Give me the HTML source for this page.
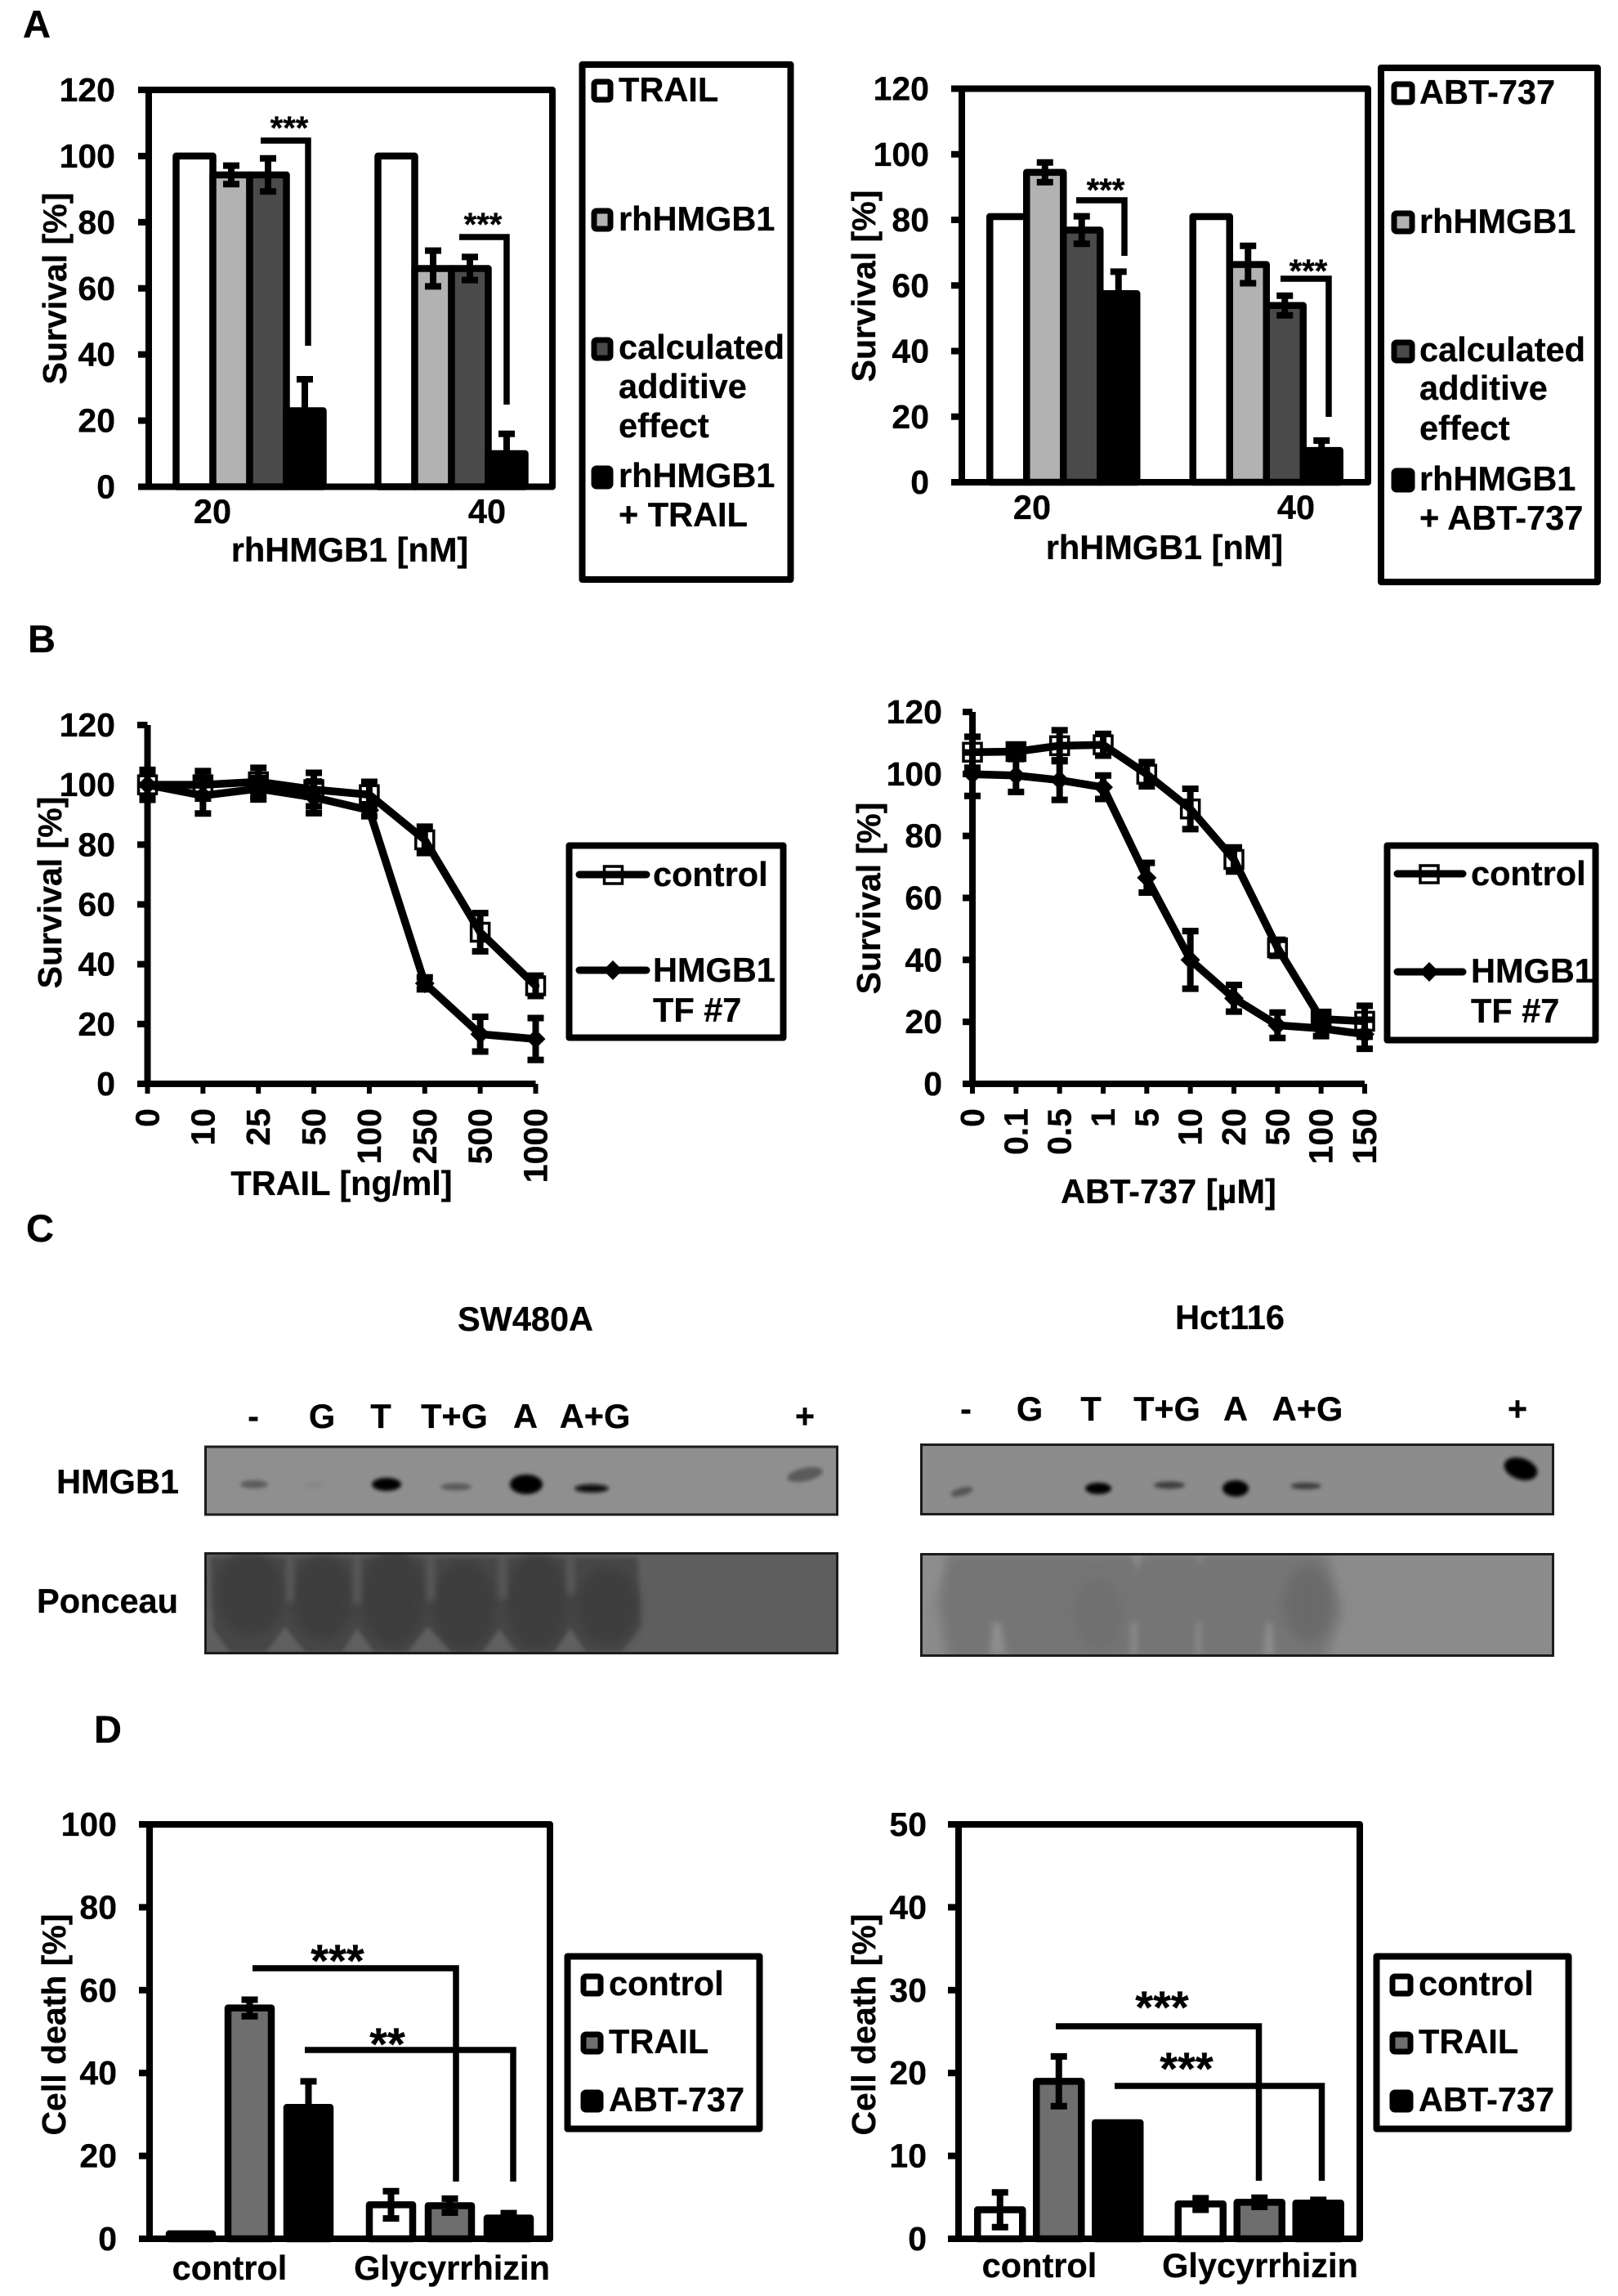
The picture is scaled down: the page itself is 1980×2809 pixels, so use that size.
<!DOCTYPE html>
<html lang="en">
<head>
<meta charset="utf-8">
<title>Survival and cell death figure</title>
<style>
html,body{margin:0;padding:0;background:#fff}
svg{display:block}
text{font-family:"Liberation Sans",Arial,sans-serif;font-weight:bold;font-size:41.5px;fill:#000;stroke:#000;stroke-width:.3}
.frame{fill:none;stroke:#000;stroke-width:8;stroke-linejoin:round}
.brk{fill:none;stroke:#000;stroke-width:7.5}
.sw{stroke:#000;stroke-width:7;stroke-linejoin:round}
.mid{text-anchor:middle}
.end{text-anchor:end}
.star{font-size:40px;text-anchor:middle}
.bigstar{font-size:56px;text-anchor:middle}
.letter{font-size:47px}
.ylab{font-size:41px;text-anchor:middle}
.tick{font-size:41px}
</style>
</head>
<body>
<svg xmlns="http://www.w3.org/2000/svg" width="1980" height="2809" viewBox="0 0 1980 2809">
<defs>
<filter id="b1" x="-50%" y="-100%" width="200%" height="300%"><feGaussianBlur stdDeviation="2.4"/></filter>
<filter id="b2" x="-30%" y="-30%" width="160%" height="160%"><feGaussianBlur stdDeviation="7"/></filter>
<filter id="b3" x="-30%" y="-30%" width="160%" height="160%"><feGaussianBlur stdDeviation="3"/></filter>
<filter id="b4" x="-100%" y="-30%" width="300%" height="160%"><feGaussianBlur stdDeviation="4"/></filter>
<clipPath id="cp1"><rect x="253" y="1902" width="770" height="119"/></clipPath>
<clipPath id="cp2"><rect x="1129" y="1903" width="770" height="121"/></clipPath>
</defs>

<text class="letter" x="28" y="46">A</text>
<text class="letter" x="34" y="798">B</text>
<text class="letter" x="32" y="1519">C</text>
<text class="letter" x="115" y="2132">D</text>

<!-- Panel A left -->
<g id="chart-a1"></g>
<path class="brk" d="M319 172H377V423"/>
<text class="star" x="354" y="170">***</text>
<path class="brk" d="M562 290H620V495"/>
<text class="star" x="591" y="288">***</text>
<text class="mid" x="260" y="640">20</text>
<text class="mid" x="596" y="640">40</text>
<text class="mid" x="428" y="687">rhHMGB1 [nM]</text>
<text class="ylab" transform="translate(81 353) rotate(-90)">Survival [%]</text>
<g>
<rect class="frame" x="712.5" y="79" width="255" height="630"/>
<rect class="sw" x="727" y="100" width="20" height="22" rx="3" fill="#fff"/>
<text x="757" y="124">TRAIL</text>
<rect class="sw" x="727" y="258" width="20" height="22" rx="3" fill="#b2b2b2"/>
<text x="757" y="282">rhHMGB1</text>
<rect class="sw" x="727" y="416" width="20" height="22" rx="3" fill="#4a4a4a"/>
<text x="757" y="439">calculated</text>
<text x="757" y="487">additive</text>
<text x="757" y="535">effect</text>
<rect class="sw" x="727" y="573" width="20" height="22" rx="3" fill="#000"/>
<text x="757" y="596">rhHMGB1</text>
<text x="757" y="644">+ TRAIL</text>
</g>

<!-- Panel A right -->
<g id="chart-a2"></g>
<path class="brk" d="M1317 245H1376V313"/>
<text class="star" x="1353" y="246">***</text>
<path class="brk" d="M1567 341H1626V510"/>
<text class="star" x="1601" y="345">***</text>
<text class="mid" x="1263" y="635">20</text>
<text class="mid" x="1586" y="635">40</text>
<text class="mid" x="1425" y="684">rhHMGB1 [nM]</text>
<text class="ylab" transform="translate(1071 350) rotate(-90)">Survival [%]</text>
<g>
<rect class="frame" x="1690" y="83" width="265" height="629"/>
<rect class="sw" x="1706" y="103" width="22" height="22" rx="3" fill="#fff"/>
<text x="1737" y="127">ABT-737</text>
<rect class="sw" x="1706" y="261" width="22" height="22" rx="3" fill="#b2b2b2"/>
<text x="1737" y="285">rhHMGB1</text>
<rect class="sw" x="1706" y="419" width="22" height="22" rx="3" fill="#4a4a4a"/>
<text x="1737" y="442">calculated</text>
<text x="1737" y="489">additive</text>
<text x="1737" y="538">effect</text>
<rect class="sw" x="1706" y="576" width="22" height="23" rx="3" fill="#000"/>
<text x="1737" y="600">rhHMGB1</text>
<text x="1737" y="648">+ ABT-737</text>
</g>

<!-- Panel B left -->
<g id="chart-b1"></g>
<text class="mid" x="418" y="1462">TRAIL [ng/ml]</text>
<text class="ylab" transform="translate(75 1092) rotate(-90)">Survival [%]</text>
<g>
<rect class="frame" x="696.5" y="1034.5" width="262" height="235"/>
<path d="M709 1070H791" stroke="#000" stroke-width="9" stroke-linecap="round"/>
<rect x="739.5" y="1060" width="22" height="21" fill="none" stroke="#000" stroke-width="3.5"/>
<text x="799" y="1084">control</text>
<path d="M709 1187H791" stroke="#000" stroke-width="9" stroke-linecap="round"/>
<path d="M750 1175L762 1187L750 1199L738 1187Z" fill="#000"/>
<text x="799" y="1201">HMGB1</text>
<text x="799" y="1250">TF #7</text>
</g>

<!-- Panel B right -->
<g id="chart-b2"></g>
<text class="mid" x="1430" y="1472">ABT-737 [µM]</text>
<text class="ylab" transform="translate(1077 1099) rotate(-90)">Survival [%]</text>
<g>
<rect class="frame" x="1697.5" y="1034.5" width="255" height="238"/>
<path d="M1710 1069H1790" stroke="#000" stroke-width="9" stroke-linecap="round"/>
<rect x="1738" y="1059" width="22" height="21" fill="none" stroke="#000" stroke-width="3.5"/>
<text x="1800" y="1083">control</text>
<path d="M1710 1189H1790" stroke="#000" stroke-width="9" stroke-linecap="round"/>
<path d="M1749 1177L1761 1189L1749 1201L1737 1189Z" fill="#000"/>
<text x="1800" y="1202">HMGB1</text>
<text x="1800" y="1251">TF #7</text>
</g>

<!-- Panel C left -->
<g>
<text class="mid" x="643" y="1628">SW480A</text>
<text class="mid" x="310" y="1747">-</text>
<text class="mid" x="394" y="1747">G</text>
<text class="mid" x="466" y="1747">T</text>
<text class="mid" x="556" y="1747">T+G</text>
<text class="mid" x="643" y="1747">A</text>
<text class="mid" x="728" y="1747">A+G</text>
<text class="mid" x="985" y="1747">+</text>
<text class="end" x="219" y="1827">HMGB1</text>
<text class="end" x="218" y="1973">Ponceau</text>
<g>
<rect x="251.5" y="1770" width="773" height="83" fill="#8f8f8f" stroke="#1c1c1c" stroke-width="3"/>
<ellipse cx="311" cy="1816" rx="17" ry="5" fill="#5c5c5c" filter="url(#b1)"/>
<ellipse cx="383" cy="1817" rx="12" ry="4" fill="#878787" filter="url(#b1)"/>
<ellipse cx="473" cy="1816" rx="18" ry="8" fill="#000" filter="url(#b1)"/>
<ellipse cx="558" cy="1819" rx="19" ry="4.5" fill="#5a5a5a" filter="url(#b1)"/>
<ellipse cx="644" cy="1816" rx="20" ry="12" fill="#000" filter="url(#b1)"/>
<ellipse cx="724" cy="1821" rx="21" ry="5" fill="#0c0c0c" filter="url(#b1)"/>
<ellipse cx="985" cy="1804" rx="22" ry="8" fill="#5a5a5a" filter="url(#b1)" transform="rotate(-12 985 1804)"/>
</g>
<g>
<rect x="251.5" y="1900.5" width="773" height="122" fill="#5e5e5e" stroke="#1c1c1c" stroke-width="3"/>
<g clip-path="url(#cp1)">
<path d="M258 1905H780L784 1990L760 2022H262Z" fill="#474747" filter="url(#b3)"/>
<g fill="#3e3e3e" filter="url(#b2)">
<ellipse cx="306" cy="1950" rx="42" ry="52"/><ellipse cx="395" cy="1955" rx="38" ry="52"/><ellipse cx="481" cy="1955" rx="40" ry="60"/><ellipse cx="568" cy="1965" rx="40" ry="55"/><ellipse cx="657" cy="1960" rx="38" ry="60"/><ellipse cx="743" cy="1965" rx="38" ry="48"/>
</g>
<g fill="#5b5b5b" filter="url(#b4)">
<path d="M351 1900h8v60h-8Z"/><path d="M433 1900h8v62h-8Z"/><path d="M523 1900h8v58h-8Z"/><path d="M611 1900h8v56h-8Z"/><path d="M694 1900h8v50h-8Z"/>
</g>
<g fill="#5e5e5e" filter="url(#b1)">
<path d="M349 1990L325 2022H374Z"/><path d="M437 1992L418 2022H458Z"/><path d="M524 1990L498 2022H552Z"/><path d="M611 1993L590 2022H632Z"/><path d="M698 1992L678 2022H718Z"/><path d="M254 1985L282 2022H254Z"/>
</g>
</g>
</g>
</g>

<!-- Panel C right -->
<g>
<text class="mid" x="1505" y="1626">Hct116</text>
<text class="mid" x="1182" y="1738">-</text>
<text class="mid" x="1260" y="1738">G</text>
<text class="mid" x="1335" y="1738">T</text>
<text class="mid" x="1428" y="1738">T+G</text>
<text class="mid" x="1512" y="1738">A</text>
<text class="mid" x="1600" y="1738">A+G</text>
<text class="mid" x="1857" y="1738">+</text>
<g>
<rect x="1127.5" y="1767.5" width="773" height="85" fill="#8c8c8c" stroke="#1c1c1c" stroke-width="3"/>
<ellipse cx="1177" cy="1825" rx="14" ry="5" fill="#555" filter="url(#b1)" transform="rotate(-15 1177 1825)"/>
<ellipse cx="1344" cy="1821" rx="16" ry="7" fill="#000" filter="url(#b1)"/>
<ellipse cx="1431" cy="1817" rx="19" ry="4.5" fill="#3c3c3c" filter="url(#b1)"/>
<ellipse cx="1512" cy="1821" rx="16" ry="10" fill="#000" filter="url(#b1)"/>
<ellipse cx="1598" cy="1818" rx="19" ry="4" fill="#3c3c3c" filter="url(#b1)"/>
<ellipse cx="1861" cy="1797" rx="21" ry="13" fill="#000" filter="url(#b1)" transform="rotate(18 1861 1797)"/>
</g>
<g>
<rect x="1127.5" y="1901.5" width="773" height="124" fill="#8b8b8b" stroke="#1c1c1c" stroke-width="3"/>
<g clip-path="url(#cp2)">
<path d="M1160 1900H1622L1642 1970L1622 2030H1160L1148 1960Z" fill="#757575" filter="url(#b2)"/>
<ellipse cx="1600" cy="1962" rx="30" ry="46" fill="#6a6a6a" filter="url(#b2)"/>
<ellipse cx="1344" cy="1975" rx="30" ry="45" fill="#6f6f6f" filter="url(#b2)"/>
<g fill="#8d8d8d" filter="url(#b4)">
<path d="M1215 1985h10l6 40h-20Z"/><path d="M1384 1985h7v40h-7Z"/><path d="M1464 1985h6v40h-6Z"/><path d="M1550 1985h6l4 40h-14Z"/><path d="M1465 1900h8l-4 18Z"/><path d="M1385 1900h14l-7 22Z"/><path d="M1128 1900h26l-12 50L1128 1970Z"/>
</g>
</g>
</g>
</g>

<!-- Panel D left -->
<g id="chart-d1"></g>
<path class="brk" d="M309 2408H558V2669"/>
<text class="bigstar" x="413" y="2418">***</text>
<path class="brk" d="M373 2508H628V2669"/>
<text class="bigstar" x="474" y="2520">**</text>
<text class="mid" x="281" y="2789">control</text>
<text class="mid" x="553" y="2789">Glycyrrhizin</text>
<text class="ylab" transform="translate(80 2477) rotate(-90)">Cell death [%]</text>
<g>
<rect class="frame" x="694.5" y="2393.5" width="235" height="211"/>
<rect class="sw" x="714" y="2418" width="21" height="21" rx="3" fill="#fff"/>
<text x="745" y="2441">control</text>
<rect class="sw" x="714" y="2489" width="21" height="21" rx="3" fill="#6e6e6e"/>
<text x="745" y="2512">TRAIL</text>
<rect class="sw" x="714" y="2560" width="21" height="21" rx="3" fill="#000"/>
<text x="745" y="2583">ABT-737</text>
</g>

<!-- Panel D right -->
<g id="chart-d2"></g>
<path class="brk" d="M1292 2479H1540.5V2668"/>
<text class="bigstar" x="1422" y="2475">***</text>
<path class="brk" d="M1364 2552H1617.5V2668"/>
<text class="bigstar" x="1452" y="2550">***</text>
<text class="mid" x="1272" y="2786">control</text>
<text class="mid" x="1542" y="2786">Glycyrrhizin</text>
<text class="ylab" transform="translate(1071 2477) rotate(-90)">Cell death [%]</text>
<g>
<rect class="frame" x="1684.5" y="2393.5" width="235" height="211"/>
<rect class="sw" x="1704" y="2418" width="22" height="21" rx="3" fill="#fff"/>
<text x="1736" y="2441">control</text>
<rect class="sw" x="1704" y="2489" width="22" height="21" rx="3" fill="#6e6e6e"/>
<text x="1736" y="2512">TRAIL</text>
<rect class="sw" x="1704" y="2560" width="22" height="21" rx="3" fill="#000"/>
<text x="1736" y="2583">ABT-737</text>
</g>
</svg>

<script>
// ---- Panel A, TRAIL
const a1Categories = ['20', '40'];
const a1YTicks = [0, 20, 40, 60, 80, 100, 120];
const a1Single = [100, 100];
const a1SingleErr = [0, 0];
const a1Rh = [94.3, 66];
const a1RhErr = [2.8, 5.4];
const a1Calc = [94.3, 66];
const a1CalcErr = [5, 3.5];
const a1Combo = [23, 10];
const a1ComboErr = [9.5, 6];

// ---- Panel A, ABT-737
const a2Categories = ['20', '40'];
const a2YTicks = [0, 20, 40, 60, 80, 100, 120];
const a2Single = [81, 81];
const a2SingleErr = [0, 0];
const a2Rh = [94.5, 66.4];
const a2RhErr = [3, 5.7];
const a2Calc = [76.9, 53.9];
const a2CalcErr = [4.2, 3];
const a2Combo = [57.5, 9.7];
const a2ComboErr = [6.7, 3];

// ---- Panel B, TRAIL dose response
const b1Categories = ['0', '10', '25', '50', '100', '250', '500', '1000'];
const b1YTicks = [0, 20, 40, 60, 80, 100, 120];
const b1Control = [100, 100, 101, 98.4, 96.7, 81.6, 50.7, 32.8];
const b1ControlErr = [4.5, 4.6, 4.7, 5.6, 4.3, 4.4, 6.4, 3.4];
const b1Hmgb1 = [100, 96.4, 98.7, 95.8, 91.5, 33.6, 16.6, 15];
const b1Hmgb1Err = [5, 6, 3.6, 5.3, 2, 2, 5.8, 7];

// ---- Panel B, ABT-737 dose response
const b2Categories = ['0', '0.1', '0.5', '1', '5', '10', '20', '50', '100', '150'];
const b2YTicks = [0, 20, 40, 60, 80, 100, 120];
const b2Control = [107, 107.2, 109.1, 109.4, 99.9, 88.7, 72.4, 43.9, 20.9, 20.2];
const b2ControlErr = [5, 2, 5, 3.5, 3.9, 6.5, 3.9, 2.6, 1.6, 5];
const b2Hmgb1 = [99.9, 99.5, 98, 95.7, 66.5, 40, 27.6, 18.9, 17.9, 16];
const b2Hmgb1Err = [7, 5.3, 6.4, 3.8, 4.8, 9.3, 4.3, 4.1, 2.5, 4.7];

// ---- Panel D, SW480A
const d1Categories = ['control', 'Glycyrrhizin'];
const d1YTicks = [0, 20, 40, 60, 80, 100];
const d1Control = [1.2, 8.2];
const d1ControlErr = [0, 3.3];
const d1Trail = [55.7, 8];
const d1TrailErr = [2, 1.7];
const d1Abt = [31.7, 5];
const d1AbtErr = [6.3, 1.2];

// ---- Panel D, Hct116
const d2Categories = ['control', 'Glycyrrhizin'];
const d2YTicks = [0, 10, 20, 30, 40, 50];
const d2Control = [3.5, 4.2];
const d2ControlErr = [2.1, 0.7];
const d2Trail = [19, 4.4];
const d2TrailErr = [3, 0.55];
const d2Abt = [14, 4.3];
const d2AbtErr = [0, 0.4];

const NS = 'http://www.w3.org/2000/svg';
function make(tag, attrs, parent) {
  const node = document.createElementNS(NS, tag);
  Object.keys(attrs).forEach(function (k) { node.setAttribute(k, attrs[k]); });
  parent.appendChild(node);
  return node;
}
function makeYScale(bottom, top, max) {
  return function (v) { return bottom - (v / max) * (bottom - top); };
}
function errPath(x, yHi, yLo, halfCap) {
  return 'M' + (x - halfCap) + ' ' + yHi + 'H' + (x + halfCap) + 'M' + x + ' ' + yHi + 'V' + yLo + 'M' + (x - halfCap) + ' ' + yLo + 'H' + (x + halfCap);
}
function drawYTicks(root, ticks, y, layout) {
  ticks.forEach(function (t) {
    const tick = make('path', { d: 'M' + layout.tickLeft + ' ' + y(t) + 'H' + layout.left, stroke: '#000', 'stroke-width': 8 }, root);
    
    
    const label = make('text', { class: 'tick', x: layout.labelRight, y: y(t) + 14, 'text-anchor': 'end' }, root);
    label.textContent = String(t);
    
    
  });
}
function drawBars(rootId, layout, categories, ticks, series) {
  const root = document.getElementById(rootId);
  const y = makeYScale(layout.bottom, layout.top, layout.max);
  const band = (layout.right - layout.left) / categories.length;
  categories.forEach(function (cat, c) {
    const center = layout.left + (c + 0.5) * band;
    series.forEach(function (s, i) {
      const x = center + (i - (series.length - 1) / 2) * layout.step;
      const bar = make('rect', {
        x: x - layout.barWidth / 2,
        y: y(s.values[c]),
        width: layout.barWidth,
        height: layout.bottom - y(s.values[c]),
        fill: s.fill, stroke: '#000', 'stroke-width': 8.5, 'stroke-linejoin': 'round'
      }, root);
      
      
    });
  });
  const frame = make('rect', { class: 'frame', x: layout.left, y: layout.top, width: layout.right - layout.left, height: layout.bottom - layout.top }, root);
  
  
  categories.forEach(function (cat, c) {
    const center = layout.left + (c + 0.5) * band;
    series.forEach(function (s, i) {
      if (!s.errs[c]) { return; }
      const x = center + (i - (series.length - 1) / 2) * layout.step;
      const err = make('path', {
        d: errPath(x, y(s.values[c] + s.errs[c]), y(s.values[c] - s.errs[c]), 10),
        fill: 'none', stroke: '#000', 'stroke-width': 8
      }, root);
      
      
    });
  });
  drawYTicks(root, ticks, y, layout);
}
function drawLines(rootId, layout, categories, ticks, series) {
  const root = document.getElementById(rootId);
  const y = makeYScale(layout.bottom, layout.top, layout.max);
  const x = function (i) { return layout.left + i * (layout.right - layout.left) / (categories.length - 1); };
  const axes = make('path', {
    d: 'M' + layout.left + ' ' + layout.top + 'V' + layout.bottom + 'H' + layout.right,
    fill: 'none', stroke: '#000', 'stroke-width': 8
  }, root);
  
  
  drawYTicks(root, ticks, y, layout);
  categories.forEach(function (cat, i) {
    const tick = make('path', { d: 'M' + x(i) + ' ' + layout.bottom + 'V' + (layout.bottom + 12), stroke: '#000', 'stroke-width': 6 }, root);
    
    
    const label = make('text', { class: 'tick', transform: 'translate(' + (x(i) + 14) + ' ' + layout.xLabelTop + ') rotate(-90)', 'text-anchor': 'end' }, root);
    label.textContent = cat;
    
    
  });
  series.forEach(function (s) {
    s.values.forEach(function (v, i) {
      const err = make('path', {
        d: errPath(x(i), y(v + s.errs[i]), y(v - s.errs[i]), 10),
        fill: 'none', stroke: '#000', 'stroke-width': 8
      }, root);
      
      
    });
    const pts = s.values.map(function (v, i) { return x(i) + ',' + y(v); }).join(' ');
    const line = make('polyline', { points: pts, fill: 'none', stroke: '#000', 'stroke-width': 9.5, 'stroke-linejoin': 'round', 'stroke-linecap': 'round' }, root);
    
    
    s.values.forEach(function (v, i) {
      let marker;
      if (s.marker === 'square') {
        marker = make('rect', { x: x(i) - 11, y: y(v) - 11, width: 22, height: 22, fill: 'none', stroke: '#000', 'stroke-width': 3.5 }, root);
      } else {
        marker = make('path', { d: 'M' + x(i) + ' ' + (y(v) - 12) + 'l12 12l-12 12l-12 -12Z', fill: '#000' }, root);
      }
      
      
    });
  });
}

drawBars('chart-a1', { left: 182, right: 676, top: 110, bottom: 595.5, max: 120, tickLeft: 169, labelRight: 141, step: 45, barWidth: 45 },
  a1Categories, a1YTicks, [
    { key: 'trail', values: a1Single, errs: a1SingleErr, fill: '#fff' },
    { key: 'rhhmgb1', values: a1Rh, errs: a1RhErr, fill: '#b2b2b2' },
    { key: 'calculated', values: a1Calc, errs: a1CalcErr, fill: '#4a4a4a' },
    { key: 'combo', values: a1Combo, errs: a1ComboErr, fill: '#000' }
  ]);
drawBars('chart-a2', { left: 1177, right: 1674, top: 108.5, bottom: 590, max: 120, tickLeft: 1164, labelRight: 1137, step: 45, barWidth: 45 },
  a2Categories, a2YTicks, [
    { key: 'abt737', values: a2Single, errs: a2SingleErr, fill: '#fff' },
    { key: 'rhhmgb1', values: a2Rh, errs: a2RhErr, fill: '#b2b2b2' },
    { key: 'calculated', values: a2Calc, errs: a2CalcErr, fill: '#4a4a4a' },
    { key: 'combo', values: a2Combo, errs: a2ComboErr, fill: '#000' }
  ]);
drawLines('chart-b1', { left: 180.5, right: 655.5, top: 887, bottom: 1326, max: 120, tickLeft: 168, labelRight: 141, xLabelTop: 1356 },
  b1Categories, b1YTicks, [
    { key: 'control', values: b1Control, errs: b1ControlErr, marker: 'square' },
    { key: 'hmgb1', values: b1Hmgb1, errs: b1Hmgb1Err, marker: 'diamond' }
  ]);
drawLines('chart-b2', { left: 1190, right: 1670, top: 871, bottom: 1326, max: 120, tickLeft: 1178, labelRight: 1153, xLabelTop: 1356 },
  b2Categories, b2YTicks, [
    { key: 'control', values: b2Control, errs: b2ControlErr, marker: 'square' },
    { key: 'hmgb1', values: b2Hmgb1, errs: b2Hmgb1Err, marker: 'diamond' }
  ]);
drawBars('chart-d1', { left: 183, right: 673, top: 2232, bottom: 2739, max: 100, tickLeft: 170, labelRight: 143, step: 72, barWidth: 53 },
  d1Categories, d1YTicks, [
    { key: 'control', values: d1Control, errs: d1ControlErr, fill: '#fff' },
    { key: 'trail', values: d1Trail, errs: d1TrailErr, fill: '#6e6e6e' },
    { key: 'abt737', values: d1Abt, errs: d1AbtErr, fill: '#000' }
  ]);
drawBars('chart-d2', { left: 1173, right: 1664, top: 2232, bottom: 2739, max: 50, tickLeft: 1160, labelRight: 1134, step: 72, barWidth: 55 },
  d2Categories, d2YTicks, [
    { key: 'control', values: d2Control, errs: d2ControlErr, fill: '#fff' },
    { key: 'trail', values: d2Trail, errs: d2TrailErr, fill: '#6e6e6e' },
    { key: 'abt737', values: d2Abt, errs: d2AbtErr, fill: '#000' }
  ]);
</script>
</body>
</html>
